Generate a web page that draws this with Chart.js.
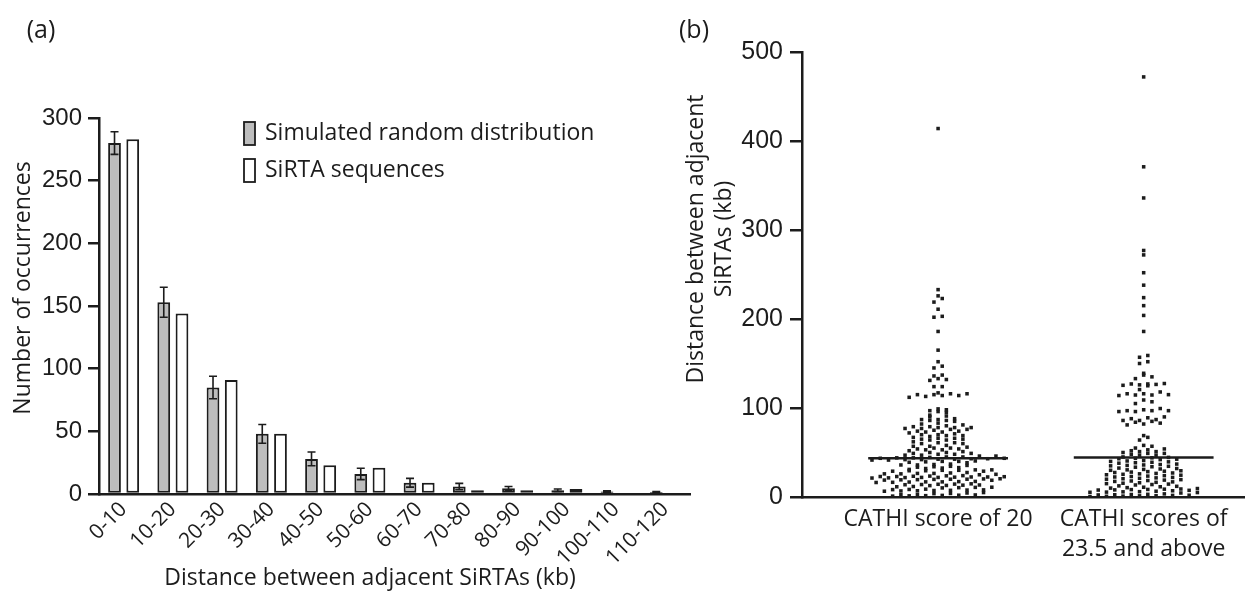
<!DOCTYPE html>
<html>
<head>
<meta charset="utf-8">
<script src="https://cdn.jsdelivr.net/npm/chart.js@4.4.1/dist/chart.umd.min.js"></script>
<style>
  html, body { margin: 0; padding: 0; background: #fff; }
  #wrapA { position: absolute; left: 0; top: 0; width: 700px; height: 597px; }
  #wrapB { position: absolute; left: 640px; top: 0; width: 608px; height: 597px; }
</style>
</head>
<body>
<div id="wrapA"><canvas id="chartA"></canvas></div>
<div id="wrapB"><canvas id="chartB"></canvas></div>
<script>
// ---- panel (a): histogram of distances ----
const binLabels = ['0-10', '10-20', '20-30', '30-40', '40-50', '50-60', '60-70',
  '70-80', '80-90', '90-100', '100-110', '110-120'];
const simulatedMean = [280, 153, 85, 48, 28, 16, 9, 6, 4.5, 3, 2, 1.5];
const simulatedErr = [9, 12, 9, 7.5, 5.5, 4.5, 3.5, 2.5, 1.5, 1, 0.5, 0.5];
const sirtaCounts = [283, 144, 91, 48, 23, 21, 9, 3, 3, 4, 0, 0];
const yTicksA = [0, 50, 100, 150, 200, 250, 300];

// ---- panel (b): scatter of distances per CATHI group ----
const groupLabels = ['CATHI score of 20', ['CATHI scores of', '23.5 and above']];
const yTicksB = [0, 100, 200, 300, 400, 500];
const groupMedians = [43.4, 44.5];
const cathi20 = [
  414, 233, 226, 223, 219, 211, 203, 202, 186, 165, 152, 147, 145, 137, 136, 133, 132, 131, 124, 124,
  117, 116, 116, 115, 115, 114, 114, 113, 112,
  99, 98, 97, 96, 95, 92, 91, 90,
  88, 87, 87, 86, 86, 85, 83, 82, 81,
  80, 79, 79, 78, 78, 78, 77, 77, 76, 76,
  75, 74, 74, 73, 73, 72, 71, 70, 70, 69, 69, 68,
  67, 66, 66, 65, 65, 64, 64, 62, 61, 61, 60, 60, 58, 57, 57,
  56, 55, 55, 54, 54, 53, 53, 52, 51, 50, 50, 49, 49, 48, 48, 47, 47, 46, 46, 45, 45,
  44.5, 44, 44, 43.5, 43.5, 43, 43, 42.5, 42.5, 42, 42, 41.5, 41.5,
  40.5, 40, 40, 39.5, 39, 38.5, 37, 36.5, 36, 36, 35.5,
  34.5, 34, 33.5, 33, 32.5, 32, 31, 30.5, 30.5, 30, 30, 29.5, 29.5, 29, 29,
  27.5, 27, 26.5, 26.5, 26, 26, 25.5, 25,
  24, 23.8, 23.5, 23.3, 23, 23, 22.8, 22.5, 22.5, 22.3, 22, 22, 21.8, 21.5, 21.3,
  20.5, 20.3, 20, 20, 19.8, 19.5, 19.3, 19, 18.8, 17.5, 17.3, 17, 17, 16.8, 16.5, 16.3,
  14.8, 14.5, 14.3, 14, 13.8, 13.5, 13.3, 13, 12.8, 11.8, 11.5, 11, 10.8, 10.5, 10.2,
  8.8, 8.5, 8.3, 8, 7.8, 7.5, 7.3, 7, 6.8, 6.5, 5, 4.5, 4, 3.8,
  2.8, 2.5, 2.3, 2, 1.8, 1.5, 1.3, 1
];
const cathi235 = [
  472, 371, 336, 277, 272, 252, 238, 224, 215, 204, 186, 159, 157, 152, 150,
  139, 137, 135, 133,
  127.5, 127, 127, 126.5, 126, 125.5, 125,
  120.7, 118, 116, 116, 115, 114.6, 114.6, 114, 109, 107, 105,
  99.4, 98, 97, 97, 97, 96, 96,
  90, 89, 88, 87, 86, 86, 85, 84, 83, 82, 81, 69, 67, 64,
  58, 57, 55, 54, 53, 52, 51, 51, 50, 49, 49, 48, 47, 47,
  45, 44.5, 44, 43.5, 43, 42.5, 42, 41, 40.5, 40, 39.5, 39, 38.5, 38,
  37, 36.5, 36, 35.5, 35, 34.5, 34, 33.5, 32.5, 32, 31.5, 31, 30.5, 30, 29.5, 29,
  28.5, 28, 27.5, 27, 26.5, 26, 25.5, 25, 24.5, 24, 23.5, 23, 22.5, 22, 21.5, 21,
  20.5, 20, 19.5, 19, 18.5, 18, 17.5, 17, 16.5, 16, 15.5, 15, 14.5, 14, 13.5,
  12.5, 12, 11.5, 11, 10.5, 10,
  9.5, 9, 8.8, 8.5, 8.3, 8, 7.8, 7.5, 7, 6.5, 6, 5.8, 5.5, 5.3, 5, 4.5,
  3.5, 3, 2.8, 2.5, 2.3, 2, 1.8, 1.5, 1.3, 1, 0.8, 0.5
];

const INK = '#1c1c1c';
const SANS = "'Open Sans', sans-serif";
const NUMS = "'Liberation Sans', Arial, sans-serif";

// group values into rows (like Prism) and spread each row sideways around the group centre
function swarm(values, center, rowSize, spacing) {
  const sorted = [...values].sort((a, b) => a - b);
  const pts = [];
  let row = [];
  let start = null;
  const flush = () => {
    const n = row.length;
    const half = Math.ceil(n / 2);
    row.forEach((v, i) => {
      const slot = i < half ? 2 * i : 2 * (i - half) + 1;
      pts.push({ x: center + (slot - (n - 1) / 2) * spacing, y: v });
    });
    row = [];
  };
  for (const v of sorted) {
    if (start === null || v - start > rowSize) { flush(); start = v; }
    row.push(v);
  }
  flush();
  return pts;
}

// free text (panel letters, axis titles) drawn on the canvas
function textPlugin(items) {
  return {
    id: 'freeText',
    afterDraw(chart) {
      const ctx = chart.ctx;
      ctx.save();
      ctx.fillStyle = INK;
      ctx.textAlign = 'center';
      ctx.textBaseline = 'middle';
      items.forEach(it => {
        const lines = Array.isArray(it.text) ? it.text : [it.text];
        const gap = it.gap || 0;
        ctx.save();
        ctx.translate(it.x, it.y);
        if (it.vertical) ctx.rotate(-Math.PI / 2);
        ctx.font = `${it.size}px ${SANS}`;
        lines.forEach((t, k) => ctx.fillText(t, 0, (k - (lines.length - 1) / 2) * gap));
        ctx.restore();
      });
      ctx.restore();
    }
  };
}

const errorBars = {
  id: 'errorBars',
  afterDatasetsDraw(chart) {
    const ctx = chart.ctx;
    const meta = chart.getDatasetMeta(0);
    const ys = chart.scales.y;
    ctx.save();
    ctx.strokeStyle = INK;
    ctx.lineWidth = 1.6;
    meta.data.forEach((bar, i) => {
      const top = ys.getPixelForValue(simulatedMean[i] + simulatedErr[i]);
      const bot = ys.getPixelForValue(Math.max(0, simulatedMean[i] - simulatedErr[i]));
      ctx.beginPath();
      ctx.moveTo(bar.x, top); ctx.lineTo(bar.x, bot);
      ctx.moveTo(bar.x - 4, top); ctx.lineTo(bar.x + 4, top);
      ctx.moveTo(bar.x - 4, bot); ctx.lineTo(bar.x + 4, bot);
      ctx.stroke();
    });
    ctx.restore();
  }
};

const insideLegend = {
  id: 'insideLegend',
  afterDraw(chart) {
    const ctx = chart.ctx;
    ctx.save();
    ctx.font = `23px ${SANS}`;
    ctx.textBaseline = 'middle';
    chart.data.datasets.forEach((ds, i) => {
      const y = 122 + i * 37;
      ctx.fillStyle = ds.backgroundColor;
      ctx.fillRect(244, y, 11, 23);
      ctx.strokeStyle = INK;
      ctx.lineWidth = 1.8;
      ctx.strokeRect(244, y, 11, 23);
      ctx.fillStyle = INK;
      ctx.fillText(ds.label, 265, y + 11);
    });
    ctx.restore();
  }
};

new Chart(document.getElementById('chartA'), {
  type: 'bar',
  data: {
    labels: binLabels,
    datasets: [
      { label: 'Simulated random distribution', data: simulatedMean,
        backgroundColor: '#bdbdbd', borderColor: INK, borderWidth: 2, borderSkipped: false },
      { label: 'SiRTA sequences', data: sirtaCounts,
        backgroundColor: '#ffffff', borderColor: INK, borderWidth: 2, borderSkipped: false }
    ]
  },
  options: {
    responsive: true,
    maintainAspectRatio: false,
    animation: false,
    layout: { padding: { left: 0, top: 118, right: 10, bottom: 0 } },
    datasets: { bar: { categoryPercentage: 0.74, barPercentage: 0.7 } },
    plugins: { legend: { display: false }, tooltip: { enabled: false } },
    scales: {
      x: {
        afterFit: s => { s.height = 103; },
        grid: { display: true, drawOnChartArea: false, drawTicks: false },
        border: { color: INK, width: 2.5 },
        ticks: { color: INK, font: { family: SANS, size: 21 }, minRotation: 45, maxRotation: 45,
          autoSkip: false, padding: 3 }
      },
      y: {
        min: 0, max: 300,
        afterFit: s => { s.width = 99; },
        afterBuildTicks: s => { s.ticks = yTicksA.map(v => ({ value: v })); },
        grid: { display: true, drawOnChartArea: false, drawTicks: true, tickLength: 11,
          color: INK, lineWidth: 2.5 },
        border: { color: INK, width: 2.5 },
        ticks: { color: INK, font: { family: NUMS, size: 24 }, padding: 6 }
      }
    }
  },
  plugins: [errorBars, insideLegend, textPlugin([
    { text: '(a)', x: 41, y: 31, size: 25 },
    { text: 'Distance between adjacent SiRTAs (kb)', x: 370, y: 578, size: 23 },
    { text: 'Number of occurrences', x: 23, y: 288, size: 23, vertical: true }
  ])]
});

const SPACING = 0.0402;
new Chart(document.getElementById('chartB'), {
  type: 'scatter',
  data: {
    datasets: [
      { data: swarm(cathi20, 0, 4.6, SPACING), pointStyle: 'rect', radius: 2.5,
        backgroundColor: INK, borderWidth: 0 },
      { data: swarm(cathi235, 1, 4.6, SPACING), pointStyle: 'rect', radius: 2.5,
        backgroundColor: INK, borderWidth: 0 },
      ...groupMedians.map((m, g) => ({
        type: 'line', data: [{ x: g - 0.34, y: m }, { x: g + 0.34, y: m }],
        borderColor: INK, borderWidth: 2.5, pointRadius: 0, showLine: true
      }))
    ]
  },
  options: {
    responsive: true,
    maintainAspectRatio: false,
    animation: false,
    layout: { padding: { left: 0, top: 52, right: 1, bottom: 0 } },
    plugins: { legend: { display: false }, tooltip: { enabled: false } },
    scales: {
      x: {
        type: 'linear', min: -0.662, max: 1.488,
        afterFit: s => { s.height = 100; },
        afterBuildTicks: s => { s.ticks = groupLabels.map((_, i) => ({ value: i })); },
        grid: { display: true, drawOnChartArea: false, drawTicks: false },
        border: { color: INK, width: 2.5 },
        ticks: { color: INK, font: { family: SANS, size: 23, lineHeight: 1.3 }, padding: 8,
          maxRotation: 0, callback: v => groupLabels[v] }
      },
      y: {
        min: 0, max: 500,
        afterFit: s => { s.width = 162; },
        afterBuildTicks: s => { s.ticks = yTicksB.map(v => ({ value: v })); },
        grid: { display: true, drawOnChartArea: false, drawTicks: true, tickLength: 12,
          color: INK, lineWidth: 2.5 },
        border: { color: INK, width: 2.5 },
        ticks: { color: INK, font: { family: NUMS, size: 25 }, padding: 7 }
      }
    }
  },
  plugins: [textPlugin([
    { text: '(b)', x: 54, y: 31, size: 25 },
    { text: ['Distance between adjacent', 'SiRTAs (kb)'], x: 70, y: 239, size: 23, gap: 28, vertical: true }
  ])]
});
</script>
</body>
</html>
